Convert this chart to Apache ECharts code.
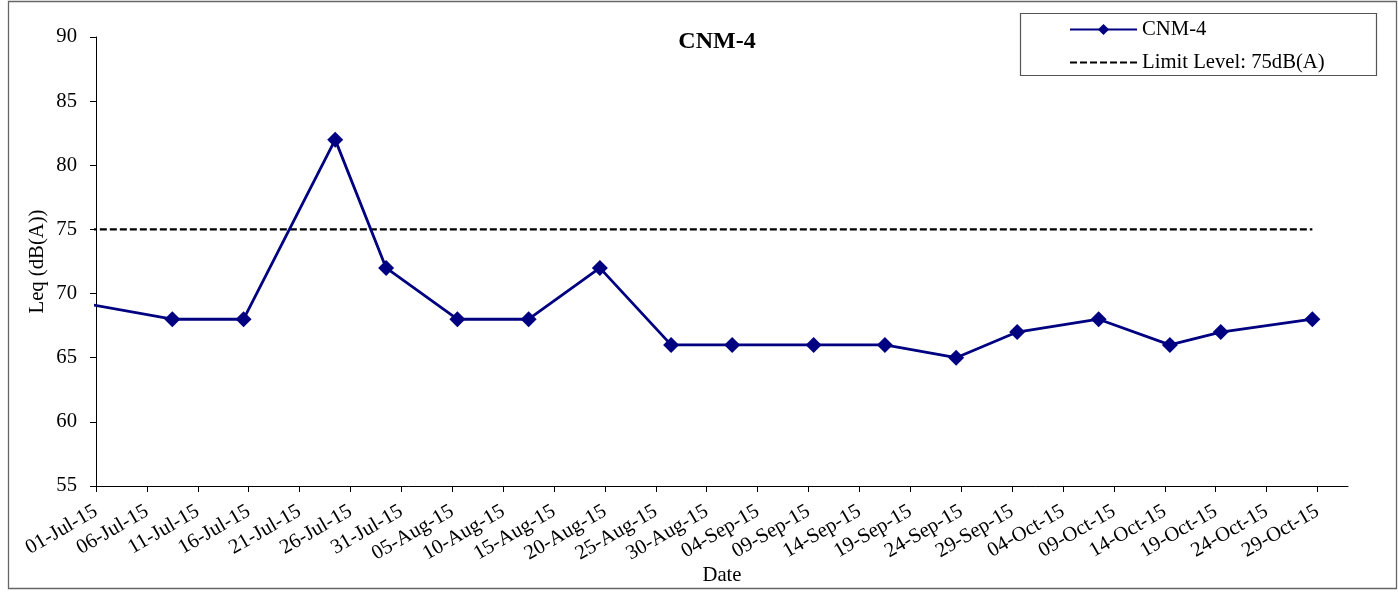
<!DOCTYPE html>
<html>
<head>
<meta charset="utf-8">
<script src="https://cdn.jsdelivr.net/npm/echarts@6/dist/echarts.min.js"></script>
<style>
html,body{margin:0;padding:0;background:#fff;}
#c{width:1398px;height:592px;}
</style>
</head>
<body>
<div id="c"></div>
<script>
// ---- data ----
var startDate = '2015-07-01';
var dates = ['2015-06-24','2015-07-08','2015-07-15','2015-07-24','2015-07-29','2015-08-05','2015-08-12','2015-08-19','2015-08-26','2015-09-01','2015-09-09','2015-09-16','2015-09-23','2015-09-29','2015-10-07','2015-10-14','2015-10-19','2015-10-28'];
var cnm4 = [70,68,68,82,72,68,68,72,66,66,66,66,65,67,68,66,67,68];
var limitLevel = 75;
var xTickLabels = ['01-Jul-15','06-Jul-15','11-Jul-15','16-Jul-15','21-Jul-15','26-Jul-15','31-Jul-15','05-Aug-15','10-Aug-15','15-Aug-15','20-Aug-15','25-Aug-15','30-Aug-15','04-Sep-15','09-Sep-15','14-Sep-15','19-Sep-15','24-Sep-15','29-Sep-15','04-Oct-15','09-Oct-15','14-Oct-15','19-Oct-15','24-Oct-15','29-Oct-15'];
var tickStepDays = 5;
var axisEndDate = '2015-11-01';

// ---- helpers ----
function dayIndex(s){
  var p = s.split('-');
  var t = Date.UTC(+p[0], +p[1]-1, +p[2]);
  var p0 = startDate.split('-');
  var t0 = Date.UTC(+p0[0], +p0[1]-1, +p0[2]);
  return Math.round((t - t0) / 86400000);
}
// Excel date axis "between tick marks": each day is a slot, point at slot centre
function slotCentre(s){ return dayIndex(s) + 0.5; }

var seriesData = dates.map(function(d,i){ return [slotCentre(d), cnm4[i]]; });
var limitData = dates.map(function(d){ return [slotCentre(d), limitLevel]; });
var tickValues = xTickLabels.map(function(l,i){ return i*tickStepDays; });
var labelMap = {};
tickValues.forEach(function(v,i){ labelMap[v] = xTickLabels[i]; });

var FONT = '"Liberation Serif", "Times New Roman", serif';
var FS = 20.7;

var chart = echarts.init(document.getElementById('c'), null, {renderer:'canvas'});
chart.setOption({
  animation: false,
  backgroundColor: '#fff',
  textStyle: {fontFamily: FONT, color: '#000'},
  title: {
    text: 'CNM-4',
    left: 712, top: 25, textAlign: 'center',
    textStyle: {fontFamily: FONT, fontSize: 24, fontWeight: 'bold', color: '#000'}
  },
  legend: {
    orient: 'vertical',
    left: 1069, top: 19, padding: 0,
    itemWidth: 67, itemHeight: 14, itemGap: 12,
    textStyle: {fontFamily: FONT, fontSize: FS, color: '#000'},
    data: [
      {name: 'CNM-4'},
      {name: 'Limit Level: 75dB(A)', itemStyle: {opacity: 0}}
    ]
  },
  grid: {left: 96, right: 50, top: 37, bottom: 106, containLabel: false, outerBoundsMode: 'none'},
  xAxis: {
    type: 'value',
    min: 0, max: dayIndex(axisEndDate),
    name: 'Date', nameLocation: 'middle', nameGap: 79, nameMoveOverlap: false,
    nameTextStyle: {fontFamily: FONT, fontSize: FS, color: '#000'},
    splitLine: {show: false},
    axisLine: {show: true, onZero: false, lineStyle: {color: '#000', width: 1}},
    axisTick: {show: true, inside: false, length: 6, customValues: tickValues, lineStyle: {color: '#000'}},
    axisLabel: {
      customValues: tickValues,
      rotate: 30, margin: 24,
      fontFamily: FONT, fontSize: FS, color: '#000',
      formatter: function(v){ return labelMap[v] !== undefined ? labelMap[v] : ''; }
    }
  },
  yAxis: {
    type: 'value',
    min: 55, max: 90, interval: 5,
    name: 'Leq (dB(A))', nameLocation: 'middle', nameGap: 48, nameRotate: 90, nameMoveOverlap: false,
    nameTextStyle: {fontFamily: FONT, fontSize: FS, color: '#000'},
    splitLine: {show: false},
    axisLine: {show: true, lineStyle: {color: '#000', width: 1}},
    axisTick: {show: true, inside: false, length: 6, lineStyle: {color: '#000'}},
    axisLabel: {margin: 19, fontFamily: FONT, fontSize: FS, color: '#000'}
  },
  series: [
    {
      name: 'CNM-4',
      type: 'line',
      data: seriesData,
      clip: true,
      symbol: 'diamond', symbolSize: 16, showAllSymbol: true,
      itemStyle: {color: '#000080'},
      lineStyle: {color: '#000080', width: 2.8},
      z: 3
    },
    {
      name: 'Limit Level: 75dB(A)',
      type: 'line',
      data: limitData,
      clip: true,
      symbol: 'none',
      itemStyle: {color: '#000'},
      lineStyle: {color: '#000', width: 2.2, type: [7, 3]},
      z: 2
    }
  ],
  graphic: [
    {type: 'rect', shape: {x: 8.5, y: 1.5, width: 1388, height: 587}, style: {fill: null, stroke: '#666', lineWidth: 1.3}, silent: true, z: -1},
    {type: 'rect', shape: {x: 1020.5, y: 13.5, width: 356, height: 62}, style: {fill: null, stroke: '#555', lineWidth: 1.2}, silent: true}
  ]
});
</script>
</body>
</html>
